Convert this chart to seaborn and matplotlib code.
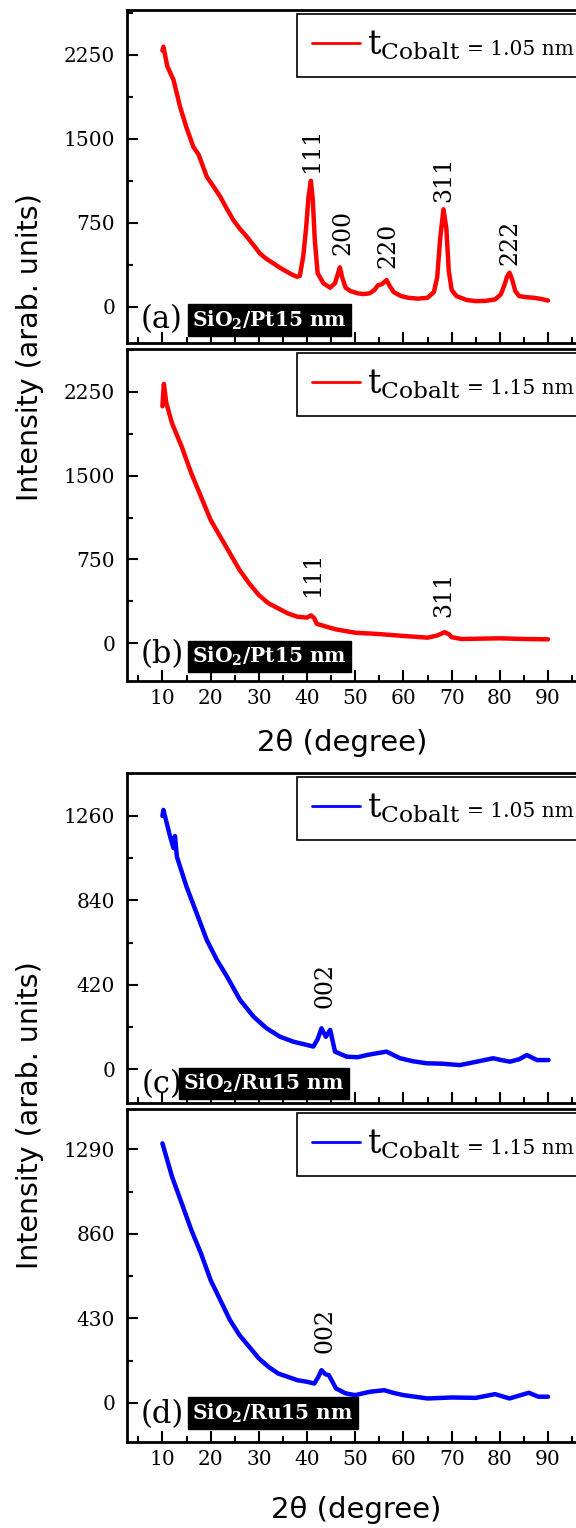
import numpy as np
import pandas as pd
import matplotlib
matplotlib.use("Agg")
import matplotlib.pyplot as plt
from matplotlib.ticker import MultipleLocator
import seaborn as sns

sns.set_theme(style="ticks")
plt.rcParams["font.family"] = ["DejaVu Serif"]
plt.rcParams["mathtext.fontset"] = "dejavuserif"
plt.rcParams["text.color"] = "black"
plt.rcParams["axes.labelcolor"] = "black"

# ---------------------------------------------------------------------------
# DATA
# ---------------------------------------------------------------------------
# (a) SiO2/Pt15 nm, t_Co = 1.05 nm
tt_a = [10.0, 10.2, 11.0, 12.3, 13.65, 15.0, 16.4, 17.5, 19.2, 20.5, 22.0, 23.3,
        24.7, 26.0, 27.5, 29.0, 30.2, 31.5, 33.0, 34.5, 35.8, 37.0, 37.9, 38.5,
        39.2, 39.8, 40.3, 40.8, 41.2, 41.6, 42.2, 43.4, 44.8, 45.8, 46.3, 46.8,
        47.3, 48.0, 49.0, 50.5, 51.7, 53.0, 54.0, 54.7, 55.5, 56.5, 57.2, 58.0,
        59.5, 61.0, 63.0, 65.0, 66.3, 67.0, 67.6, 68.3, 68.9, 69.4, 70.0, 71.0,
        73.1, 75.0, 77.0, 79.0, 80.2, 81.0, 81.5, 82.0, 82.5, 83.2, 84.0, 85.5,
        87.0, 88.5, 90.0]
int_a = [2290, 2324, 2150, 2027, 1788, 1600, 1430, 1360, 1162, 1080, 983, 880,
         775, 700, 626, 545, 477, 430, 388, 345, 313, 285, 268, 275,
         447, 700, 980, 1126, 950, 600, 300, 209, 170, 210, 280, 352,
         260, 170, 140, 120, 113, 120, 150, 192, 200, 239, 180, 130,
         95, 80, 72, 80, 130, 260, 600, 871, 700, 320, 150, 95,
         60, 50, 52, 65, 110, 200, 270, 304, 250, 140, 95, 85,
         80, 70, 55]

# (b) SiO2/Pt15 nm, t_Co = 1.15 nm
tt_b = [10.0, 10.3, 10.8, 12.0, 14.0, 16.0, 18.0, 20.0, 22.0, 24.0, 26.0, 28.0,
        30.0, 32.0, 34.0, 36.0, 38.0, 40.0, 40.8, 41.5, 42.0, 44.0, 46.0, 50.0,
        55.0, 60.0, 65.0, 67.0, 68.5, 69.5, 70.0, 72.0, 80.0, 85.0, 90.0]
int_b = [2120, 2320, 2150, 1967, 1758, 1520, 1311, 1103, 954, 805, 656, 536,
         432, 358, 313, 268, 238, 230, 250, 225, 175, 149, 125, 95,
         83, 66, 51, 70, 100, 80, 55, 39, 45, 39, 36]

# (c) SiO2/Ru15 nm, t_Co = 1.05 nm
tt_c = [10.0, 10.2, 11.6, 12.3, 12.6, 13.0, 15.0, 17.1, 19.2, 21.3, 23.4, 26.1,
        28.9, 31.6, 34.4, 37.2, 40.0, 41.3, 42.2, 43.0, 43.9, 44.8, 45.8, 48.2,
        50.5, 52.4, 54.5, 56.5, 59.3, 62.0, 64.8, 68.0, 71.7, 75.2, 78.6, 80.5,
        82.1, 84.0, 85.6, 87.7, 90.1]
int_c = [1260, 1290, 1157, 1100, 1160, 1057, 908, 776, 643, 544, 461, 345,
         262, 204, 162, 137, 121, 113, 150, 204, 162, 196, 88, 63,
         60, 71, 80, 88, 55, 40, 30, 28, 21, 38, 55, 45,
         38, 50, 71, 46, 46]

# (d) SiO2/Ru15 nm, t_Co = 1.15 nm
tt_d = [10.0, 11.0, 12.0, 14.0, 16.0, 18.0, 20.0, 22.0, 24.0, 26.0, 28.0, 30.0,
        32.0, 34.0, 36.0, 38.0, 40.0, 41.5, 42.3, 43.0, 43.8, 44.5, 45.2, 46.0,
        48.0, 50.0, 53.0, 56.0, 58.0, 60.0, 65.0, 70.0, 75.0, 79.0, 82.0, 86.0,
        88.0, 90.0]
int_d = [1320, 1235, 1150, 1015, 879, 760, 624, 523, 421, 344, 285, 226,
         183, 149, 132, 115, 107, 98, 130, 166, 145, 141, 110, 73,
         48, 39, 56, 64, 50, 39, 22, 27, 25, 44, 22, 51,
         31, 31]

panel_tags = ["(a)", "(b)", "(c)", "(d)"]
substrates = ["SiO$_\\mathbf{2}$/Pt15 nm", "SiO$_\\mathbf{2}$/Pt15 nm",
              "SiO$_\\mathbf{2}$/Ru15 nm", "SiO$_\\mathbf{2}$/Ru15 nm"]
thickness = ["= 1.05 nm", "= 1.15 nm", "= 1.05 nm", "= 1.15 nm"]
colors = ["#ff0000", "#ff0000", "#0000ff", "#0000ff"]
y_limits = [(-327, 2652), (-334, 2632), (-169, 1475), (-198, 1495)]
y_steps = [750, 750, 420, 430]

# peak indexing: (label, 2theta, text bottom)
peaks_a = [("111", 41.0, 1193), ("200", 47.5, 462), ("220", 56.7, 343),
           ("311", 68.3, 939), ("222", 82.1, 373)]
peaks_b = [("111", 41.2, 417), ("311", 68.3, 238)]
peaks_c = [("002", 43.7, 303)]
peaks_d = [("002", 43.8, 255)]

curves = [(tt_a, int_a), (tt_b, int_b), (tt_c, int_c), (tt_d, int_d)]
peaks = [peaks_a, peaks_b, peaks_c, peaks_d]

# ---------------------------------------------------------------------------
# LAYOUT (pixel geometry of the original, 576 x 1528)
# ---------------------------------------------------------------------------
W, H = 576, 1528
ax_left, ax_right = 127, 590
ax_tops = [10, 349, 772.7, 1109]
ax_bottoms = [343.3, 680.7, 1103.3, 1441.7]
box_left = [0.1296, 0.1296, 0.112, 0.1296]
box_y = [0.070, 0.072, 0.060, 0.086]
tag_y = [0.070, 0.078, 0.058, 0.082]

fig = plt.figure(figsize=(W / 100, H / 100), dpi=100)
serif = ["DejaVu Serif"]
sans = ["DejaVu Sans"]

axes = []
for i in range(4):
    pos = [ax_left / W, 1 - ax_bottoms[i] / H,
           (ax_right - ax_left) / W, (ax_bottoms[i] - ax_tops[i]) / H]
    ax = fig.add_axes(pos)
    axes.append(ax)
    tt, inten = curves[i]
    df = pd.DataFrame({"two_theta": tt, "intensity": inten})
    sns.lineplot(data=df, x="two_theta", y="intensity", ax=ax, color=colors[i],
                 lw=3.2, errorbar=None, label=r"$\mathrm{t}_{\mathrm{Cobalt}}$")

    ax.set_xlim(2.65, 98.7)
    ax.set_ylim(*y_limits[i])
    ax.xaxis.set_major_locator(MultipleLocator(10))
    ax.xaxis.set_minor_locator(MultipleLocator(5))
    ax.yaxis.set_major_locator(MultipleLocator(y_steps[i]))
    ax.yaxis.set_minor_locator(MultipleLocator(y_steps[i] / 2))
    ax.tick_params(which="both", direction="in", width=1.5, colors="black",
                   labelsize=14.5, top=False, right=False)
    ax.tick_params(which="major", length=8)
    ax.tick_params(which="minor", length=4.5)
    ax.tick_params(axis="x", pad=6)
    ax.tick_params(axis="y", pad=8.5)
    for s in ax.spines.values():
        s.set_linewidth(2.0)
        s.set_color("black")
    ax.set_ylabel("")
    ax.set_xlabel("")
    if i in (0, 2):
        ax.tick_params(axis="x", labelbottom=False)

    # legend box (runs off the right edge like the original)
    leg = ax.legend(loc="upper left", bbox_to_anchor=(0.3667, 0, 1.0, 0.988),
                    mode="expand", borderaxespad=0, fontsize=24, frameon=True,
                    fancybox=False, edgecolor="black", framealpha=1,
                    handlelength=1.45, handletextpad=0.2, borderpad=0.45)
    leg.get_frame().set_linewidth(1.2)
    leg.get_lines()[0].set_linewidth(2.0)
    for t in leg.get_texts():
        t.set_color("black")
    ax.text(0.735, 0.865, thickness[i], transform=ax.transAxes, fontsize=14.5,
            va="baseline", ha="left", family=serif, zorder=10)

    # peak indices
    for lab, px, py in peaks[i]:
        ax.text(px, py, lab, rotation=90, ha="center", va="bottom",
                fontsize=17, family=serif)

    # panel tag + substrate label
    ax.text(0.0756, tag_y[i], panel_tags[i], transform=ax.transAxes,
            fontsize=22, ha="center", va="center", family=serif)
    ax.text(box_left[i] + 0.01, box_y[i], substrates[i] + " ",
            transform=ax.transAxes, fontsize=14.5, fontweight="bold",
            color="white", ha="left", va="center", family=serif,
            bbox=dict(boxstyle="square,pad=0.2", facecolor="black",
                      edgecolor="black"))

axes[1].set_xlabel("2\u03b8 (degree)", fontsize=21, family=sans, va="center")
axes[1].xaxis.set_label_coords(0.4657, -0.188)
axes[3].set_xlabel("2\u03b8 (degree)", fontsize=21, family=sans, va="center")
axes[3].xaxis.set_label_coords(0.4946, -0.205)

fig.text(30 / W, 1 - 347 / H, "Intensity (arab. units)", rotation=90,
         ha="center", va="center", fontsize=20.5, family=sans)
fig.text(30 / W, 1 - 1115 / H, "Intensity (arab. units)", rotation=90,
         ha="center", va="center", fontsize=20.5, family=sans)

fig.savefig("out.png", dpi=100)
